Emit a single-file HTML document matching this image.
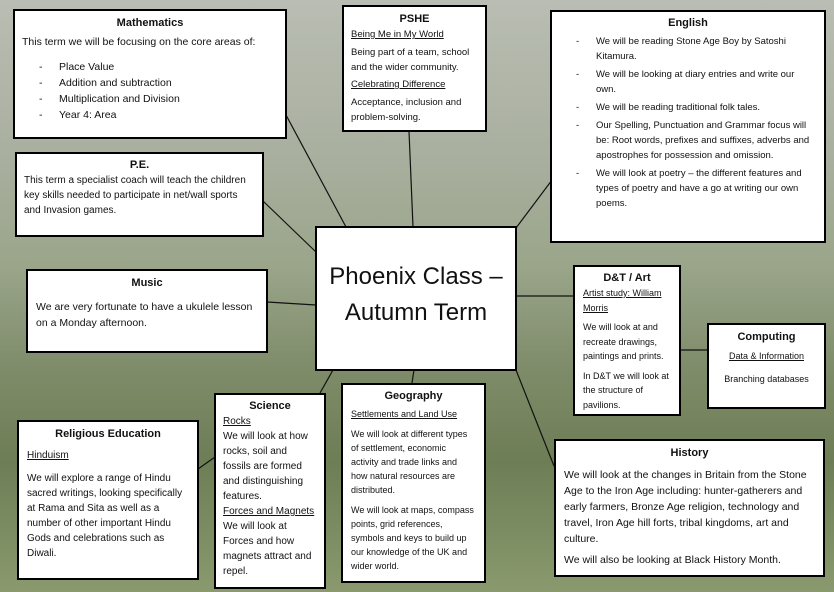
<!DOCTYPE html>
<html><head><meta charset="utf-8"><style>
*{margin:0;padding:0;box-sizing:border-box}
body{width:834px;height:592px;overflow:hidden;position:relative;font-family:"Liberation Sans",sans-serif;color:#111;
background:linear-gradient(180deg,#b9bdb3 0%,#aab0a0 25%,#9aa58a 45%,#7f8c6a 62%,#6d7d55 78%,#8a9a6e 100%);}
.b{position:absolute;background:#fff;border:2px solid #000;font-size:9.5px;line-height:15px;padding:3px 7px}
.t{font-weight:bold;text-align:center;font-size:11px;line-height:16px}
u{text-decoration:underline}
.li{padding-left:12px;position:relative}
.li:before{content:"-";position:absolute;left:0}
p{margin:0}
svg{position:absolute;left:0;top:0}
</style></head><body>
<svg width="834" height="592"><g stroke="#111" stroke-width="1.2">
<line x1="286" y1="115" x2="346" y2="227"/>
<line x1="409" y1="131" x2="413" y2="227"/>
<line x1="552" y1="180" x2="516" y2="228"/>
<line x1="263" y1="201" x2="316" y2="252"/>
<line x1="267" y1="302" x2="316" y2="305"/>
<line x1="573" y1="296" x2="516" y2="296"/>
<line x1="707" y1="350" x2="680" y2="350"/>
<line x1="320" y1="393" x2="333" y2="370"/>
<line x1="412" y1="383" x2="414" y2="370"/>
<line x1="554" y1="466" x2="516" y2="370"/>
<line x1="198" y1="469" x2="215" y2="457"/>
</g></svg>

<div class="b" style="left:13px;top:9px;width:274px;height:130px;font-size:10.5px;line-height:16px;padding:4px 7px">
<div class="t">Mathematics</div>
<p style="margin:3px 0 9px">This term we will be focusing on the core areas of:</p>
<div style="padding-left:17px">
<div class="li" style="padding-left:20px">Place Value</div>
<div class="li" style="padding-left:20px">Addition and subtraction</div>
<div class="li" style="padding-left:20px">Multiplication and Division</div>
<div class="li" style="padding-left:20px">Year 4: Area</div></div></div>

<div class="b" style="left:342px;top:5px;width:145px;height:127px;padding:4px 7px">
<div class="t">PSHE</div>
<u>Being Me in My World</u>
<p style="margin-top:3px">Being part of a team, school and the wider community.</p>
<p style="margin-top:2px"><u>Celebrating Difference</u></p>
<p style="margin-top:3px">Acceptance, inclusion and problem-solving.</p></div>

<div class="b" style="left:550px;top:10px;width:276px;height:233px;padding:3px 10px 3px 10px">
<div class="t">English</div>
<div style="padding-left:14px;margin-top:3px">
<div class="li" style="padding-left:20px;margin-bottom:3px">We will be reading Stone Age Boy by Satoshi Kitamura.</div>
<div class="li" style="padding-left:20px;margin-bottom:3px">We will be looking at diary entries and write our own.</div>
<div class="li" style="padding-left:20px;margin-bottom:3px">We will be reading traditional folk tales.</div>
<div class="li" style="padding-left:20px;margin-bottom:3px">Our Spelling, Punctuation and Grammar focus will be: Root words, prefixes and suffixes, adverbs and apostrophes for possession and omission.</div>
<div class="li" style="padding-left:20px">We will look at poetry – the different features and types of poetry and have a go at writing our own poems.</div></div></div>

<div class="b" style="left:15px;top:152px;width:249px;height:85px;font-size:10px;padding:3px 7px">
<div class="t">P.E.</div>
<p>This term a specialist coach will teach the children key skills needed to participate in net/wall sports and Invasion games.</p></div>

<div class="b" style="left:315px;top:226px;width:202px;height:145px;text-align:center;font-size:24px;line-height:36px;padding-top:31px">Phoenix Class –<br>Autumn Term</div>

<div class="b" style="left:26px;top:269px;width:242px;height:84px;font-size:10.5px;line-height:16px;padding:4px 8px">
<div class="t">Music</div>
<p style="margin-top:8px">We are very fortunate to have a ukulele lesson on a Monday afternoon.</p></div>

<div class="b" style="left:573px;top:265px;width:108px;height:151px;font-size:9px;line-height:14.5px;padding:3px 8px">
<div class="t">D&amp;T / Art</div>
<u>Artist study: William Morris</u>
<p style="margin-top:5px">We will look at and recreate drawings, paintings and prints.</p>
<p style="margin-top:5px">In D&amp;T we will look at the structure of pavilions.</p></div>

<div class="b" style="left:707px;top:323px;width:119px;height:86px;font-size:9px;text-align:center;padding:4px 4px">
<div class="t">Computing</div>
<p style="margin-top:4px"><u>Data &amp; Information</u></p>
<p style="margin-top:8px">Branching databases</p></div>

<div class="b" style="left:17px;top:420px;width:182px;height:160px;font-size:10px;padding:4px 8px">
<div class="t">Religious Education</div>
<p style="margin-top:6px"><u>Hinduism</u></p>
<p style="margin-top:8px">We will explore a range of Hindu sacred writings, looking specifically at Rama and Sita as well as a number of other important Hindu Gods and celebrations such as Diwali.</p></div>

<div class="b" style="left:214px;top:393px;width:112px;height:196px;font-size:10px;padding:3px 7px">
<div class="t">Science</div>
<u>Rocks</u>
<p>We will look at how rocks, soil and fossils are formed and distinguishing features.</p>
<u>Forces and Magnets</u>
<p>We will look at Forces and how magnets attract and repel.</p></div>

<div class="b" style="left:341px;top:383px;width:145px;height:200px;font-size:9px;line-height:14px;padding:3px 8px">
<div class="t">Geography</div>
<p style="margin-top:3px"><u>Settlements and Land Use</u></p>
<p style="margin-top:6px">We will look at different types of settlement, economic activity and trade links and how natural resources are distributed.</p>
<p style="margin-top:6px">We will look at maps, compass points, grid references, symbols and keys to build up our knowledge of the UK and wider world.</p></div>

<div class="b" style="left:554px;top:439px;width:271px;height:138px;font-size:10.5px;line-height:16px;padding:4px 8px">
<div class="t">History</div>
<p style="margin-top:6px">We will look at the changes in Britain from the Stone Age to the Iron Age including: hunter-gatherers and early farmers, Bronze Age religion, technology and travel, Iron Age hill forts, tribal kingdoms, art and culture.</p>
<p style="margin-top:5px">We will also be looking at Black History Month.</p></div>
</body></html>
